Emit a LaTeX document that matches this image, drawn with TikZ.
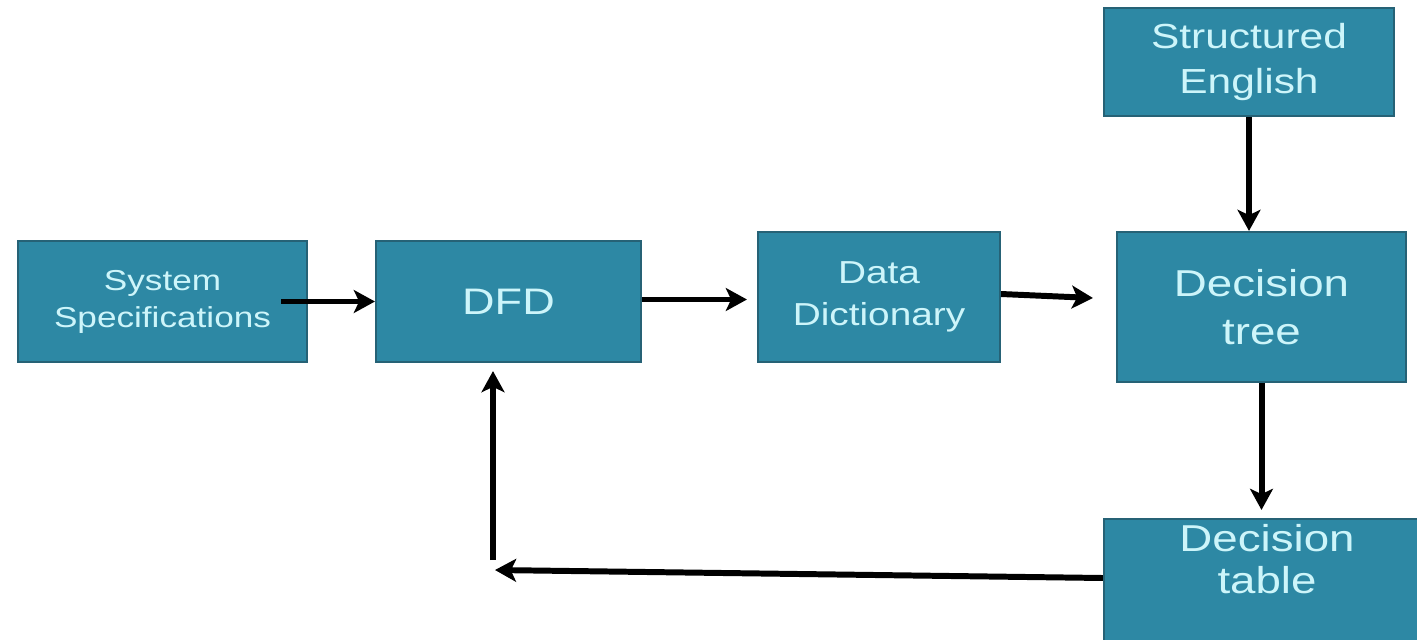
\documentclass[tikz,border=0pt]{standalone}
\usepackage{fontspec}
\usepackage{tikz}
\usetikzlibrary{positioning,calc}
\usetikzlibrary{arrows.meta}
\newfontfamily\boxfont[FakeStretch=1.22]{Liberation Sans}
\definecolor{boxfill}{RGB}{45,136,164}
\definecolor{boxline}{RGB}{38,98,118}
\definecolor{boxtext}{RGB}{205,245,250}
\tikzstyle{blocco} = [rectangle, fill=boxfill, draw=boxline, line width=1.2pt,
text=boxtext, align=center, inner sep=0pt, font=\boxfont]
\tikzstyle{freccia} = [line width=3.4pt, -{Stealth[length=12pt,width=13pt,inset=3pt]}]

\begin{document}
\begin{tikzpicture}
\useasboundingbox (0,0) rectangle (28.34,-12.78);
% blocchi
\node (sys) at (3.25,-6.03) [blocco, minimum width=5.78cm, minimum height=2.42cm,
  font=\boxfont\fontsize{16.4}{21}\selectfont] {System\\Specifications};
\node (dfd) at (10.17,-6.03) [blocco, minimum width=5.3cm, minimum height=2.42cm,
  font=\boxfont\fontsize{21}{27}\selectfont] {DFD};
\node (dd) at (17.58,-5.94) [blocco, minimum width=4.84cm, minimum height=2.6cm,
  font=\boxfont\fontsize{18.1}{23.5}\selectfont] {Data\\Dictionary};
\node (dt) at (25.23,-6.14) [blocco, minimum width=5.78cm, minimum height=3cm,
  font=\boxfont\fontsize{21.3}{27.3}\selectfont] {Decision\\tree};
\node (se) at (24.98,-1.24) [blocco, minimum width=5.8cm, minimum height=2.16cm,
  font=\boxfont\fontsize{19.8}{25.5}\selectfont] {Structured\\English};
\node (tbl) at (25.34,-11.79) [blocco, minimum width=6.52cm, minimum height=2.82cm] {};
\node (tbltxt) [below=0.12cm of tbl.north, anchor=north, text=boxtext, align=center,
  inner sep=0pt, font=\boxfont\fontsize{21.3}{24}\selectfont] {Decision\\table};
\coordinate (bend) at (9.86,-11.4);
% frecce
\draw[freccia] ([xshift=-0.54cm]sys.east) -- (dfd.west);
\draw[freccia, shorten >=0.2cm] ([yshift=0.04cm]dfd.east) -- ([yshift=0.04cm]dfd.east -| dd.west);
\draw[freccia] ([yshift=0.06cm]dd.east) -- ([xshift=-0.46cm,yshift=0.18cm]dt.west);
\draw[freccia] (se.south) -- (se.south |- dt.north);
\draw[freccia, shorten >=0.16cm] (dt.south) -- (dt.south |- tbl.north);
\draw[freccia] ([yshift=0.23cm]tbl.west) -- ([xshift=0.04cm]bend);
\draw[freccia, shorten >=0.16cm] ([yshift=0.2cm]bend) -- (bend |- dfd.south);
\end{tikzpicture}
\end{document}
